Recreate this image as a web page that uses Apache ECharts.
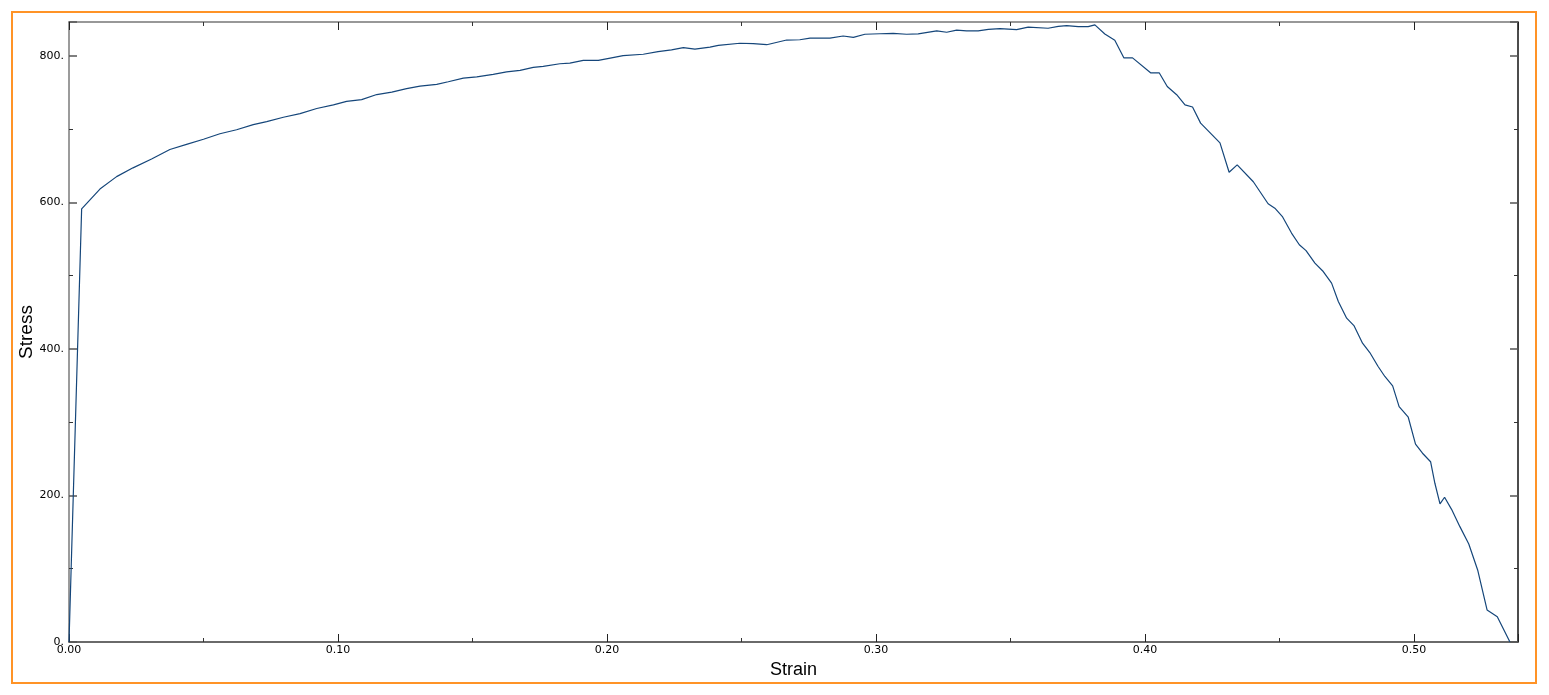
<!DOCTYPE html>
<html>
<head>
<meta charset="utf-8">
<script src="https://cdn.jsdelivr.net/npm/echarts@6/dist/echarts.min.js"></script>
<style>
html,body{margin:0;padding:0;background:#fff;}
#chart{width:1549px;height:695px;}
</style>
</head>
<body>
<div id="chart"></div>
<script>
const strain = [0, 0.0047, 0.0115, 0.0177, 0.0238, 0.0307, 0.0375, 0.0437, 0.050, 0.0561, 0.0623, 0.0685, 0.0735, 0.0797, 0.0859, 0.0921, 0.0983, 0.1032, 0.1088, 0.1144, 0.12, 0.1255, 0.1305, 0.1367, 0.141, 0.1466, 0.1516, 0.1577, 0.1627, 0.1677, 0.1726, 0.1763, 0.1825, 0.1862, 0.1912, 0.1968, 0.2017, 0.206, 0.2135, 0.219, 0.224, 0.2284, 0.2327, 0.2383, 0.2414, 0.2494, 0.2544, 0.2594, 0.2668, 0.2717, 0.2755, 0.2829, 0.2878, 0.2916, 0.2959, 0.3015, 0.3064, 0.3114, 0.3157, 0.3226, 0.3263, 0.33, 0.3337, 0.338, 0.3418, 0.3461, 0.3523, 0.3566, 0.364, 0.3678, 0.3709, 0.3752, 0.3789, 0.3814, 0.3851, 0.3888, 0.3922, 0.3954, 0.4021, 0.4053, 0.4083, 0.4118, 0.4149, 0.4177, 0.4207, 0.4279, 0.4313, 0.4343, 0.4403, 0.4458, 0.4483, 0.4512, 0.4545, 0.4574, 0.4599, 0.4632, 0.4663, 0.4694, 0.4719, 0.475, 0.4777, 0.4809, 0.4836, 0.4867, 0.4892, 0.4921, 0.4945, 0.4979, 0.5006, 0.5032, 0.5062, 0.5078, 0.5097, 0.5114, 0.514, 0.5171, 0.5204, 0.5237, 0.5272, 0.531, 0.5357];
const stress = [0, 591, 618, 635, 647, 659, 672, 679, 686, 693.5, 699, 706, 710, 716, 721, 728, 733, 737.6, 740, 747, 750.4, 755, 758.6, 761, 764.5, 769.5, 771, 774.5, 778, 780, 784, 785.4, 789, 790, 793.6, 793.6, 797, 800, 802, 805.5, 808, 811, 809, 811.8, 814, 817, 816.4, 815, 821.4, 821.8, 824, 824, 826.9, 825, 829.3, 830, 830.5, 829.3, 829.8, 834, 832, 835, 834, 834, 836, 837, 835.5, 839, 837.5, 840, 841, 839.6, 839.6, 842, 829.6, 821, 797, 797, 776.7, 776.7, 758, 746.8, 733, 730, 708, 681, 641, 651, 628, 598, 592, 580, 558, 542, 534, 517, 505.5, 489.7, 464.6, 441.9, 431.8, 407.8, 395, 375.9, 362.3, 349.5, 321.2, 306.7, 270, 257.6, 246, 216.6, 188.4, 197.5, 181, 157.4, 133.8, 98.3, 43.7, 34.6, 0];
const xRange = [0, 0.5387];
const yRange = [0, 846];
const xTickStep = 0.1;
const yTickStep = 200;
const xName = 'Strain';
const yName = 'Stress';

const chart = echarts.init(document.getElementById('chart'), null, {renderer: 'canvas'});
const labelFont = {fontFamily: 'DejaVu Sans', fontSize: 11, color: '#000'};
const baseX = {
  type: 'value', min: xRange[0], max: xRange[1], interval: xTickStep,
  splitLine: {show: false},
  minorTick: {show: true, splitNumber: 2, length: 4, lineStyle: {color: '#333', width: 1}},
  axisTick: {show: true, inside: true, length: 8, lineStyle: {color: '#222', width: 1}},
};
const baseY = {
  type: 'value', min: yRange[0], max: yRange[1], interval: yTickStep,
  splitLine: {show: false},
  minorTick: {show: true, splitNumber: 2, length: 4, lineStyle: {color: '#333', width: 1}},
  axisTick: {show: true, inside: true, length: 8, lineStyle: {color: '#555', width: 1.5}},
};
chart.setOption({
  animation: false,
  backgroundColor: '#fff',
  grid: {left: 69, top: 22, right: 31, bottom: 53, containLabel: false},
  graphic: [{
    type: 'rect', z: 100,
    shape: {x: 12, y: 12, width: 1524, height: 671},
    style: {fill: 'none', stroke: '#ff9326', lineWidth: 2}
  }],
  xAxis: [
    Object.assign({}, baseX, {
      position: 'bottom',
      name: xName, nameLocation: 'middle', nameGap: 19, nameMoveOverlap: false,
      nameTextStyle: {fontFamily: 'Liberation Sans', fontSize: 18, color: '#000'},
      axisLine: {show: true, onZero: false, lineStyle: {color: '#3a3a3a', width: 1.5}},
      axisLabel: Object.assign({margin: 3, showMaxLabel: false, formatter: v => v.toFixed(2)}, labelFont)
    }),
    Object.assign({}, baseX, {
      position: 'top',
      axisLine: {show: true, onZero: false, lineStyle: {color: '#777', width: 1.5}},
      axisLabel: {show: false}
    })
  ],
  yAxis: [
    Object.assign({}, baseY, {
      position: 'left',
      name: yName, nameLocation: 'middle', nameGap: 33, nameMoveOverlap: false,
      nameTextStyle: {fontFamily: 'Liberation Sans', fontSize: 19, color: '#000'},
      axisLine: {show: true, onZero: false, lineStyle: {color: '#7a7a7a', width: 1.5}},
      axisLabel: Object.assign({margin: 5, showMaxLabel: false, formatter: v => v + '.'}, labelFont)
    }),
    Object.assign({}, baseY, {
      position: 'right',
      axisLine: {show: true, onZero: false, lineStyle: {color: '#111', width: 1.5}},
      axisLabel: {show: false}
    })
  ],
  series: [{
    type: 'line',
    xAxisIndex: 0, yAxisIndex: 0,
    data: strain.map((s, i) => [s, stress[i]]),
    showSymbol: false, symbol: 'none',
    lineStyle: {color: '#15467a', width: 1.2},
    clip: true
  }]
});
</script>
</body>
</html>
